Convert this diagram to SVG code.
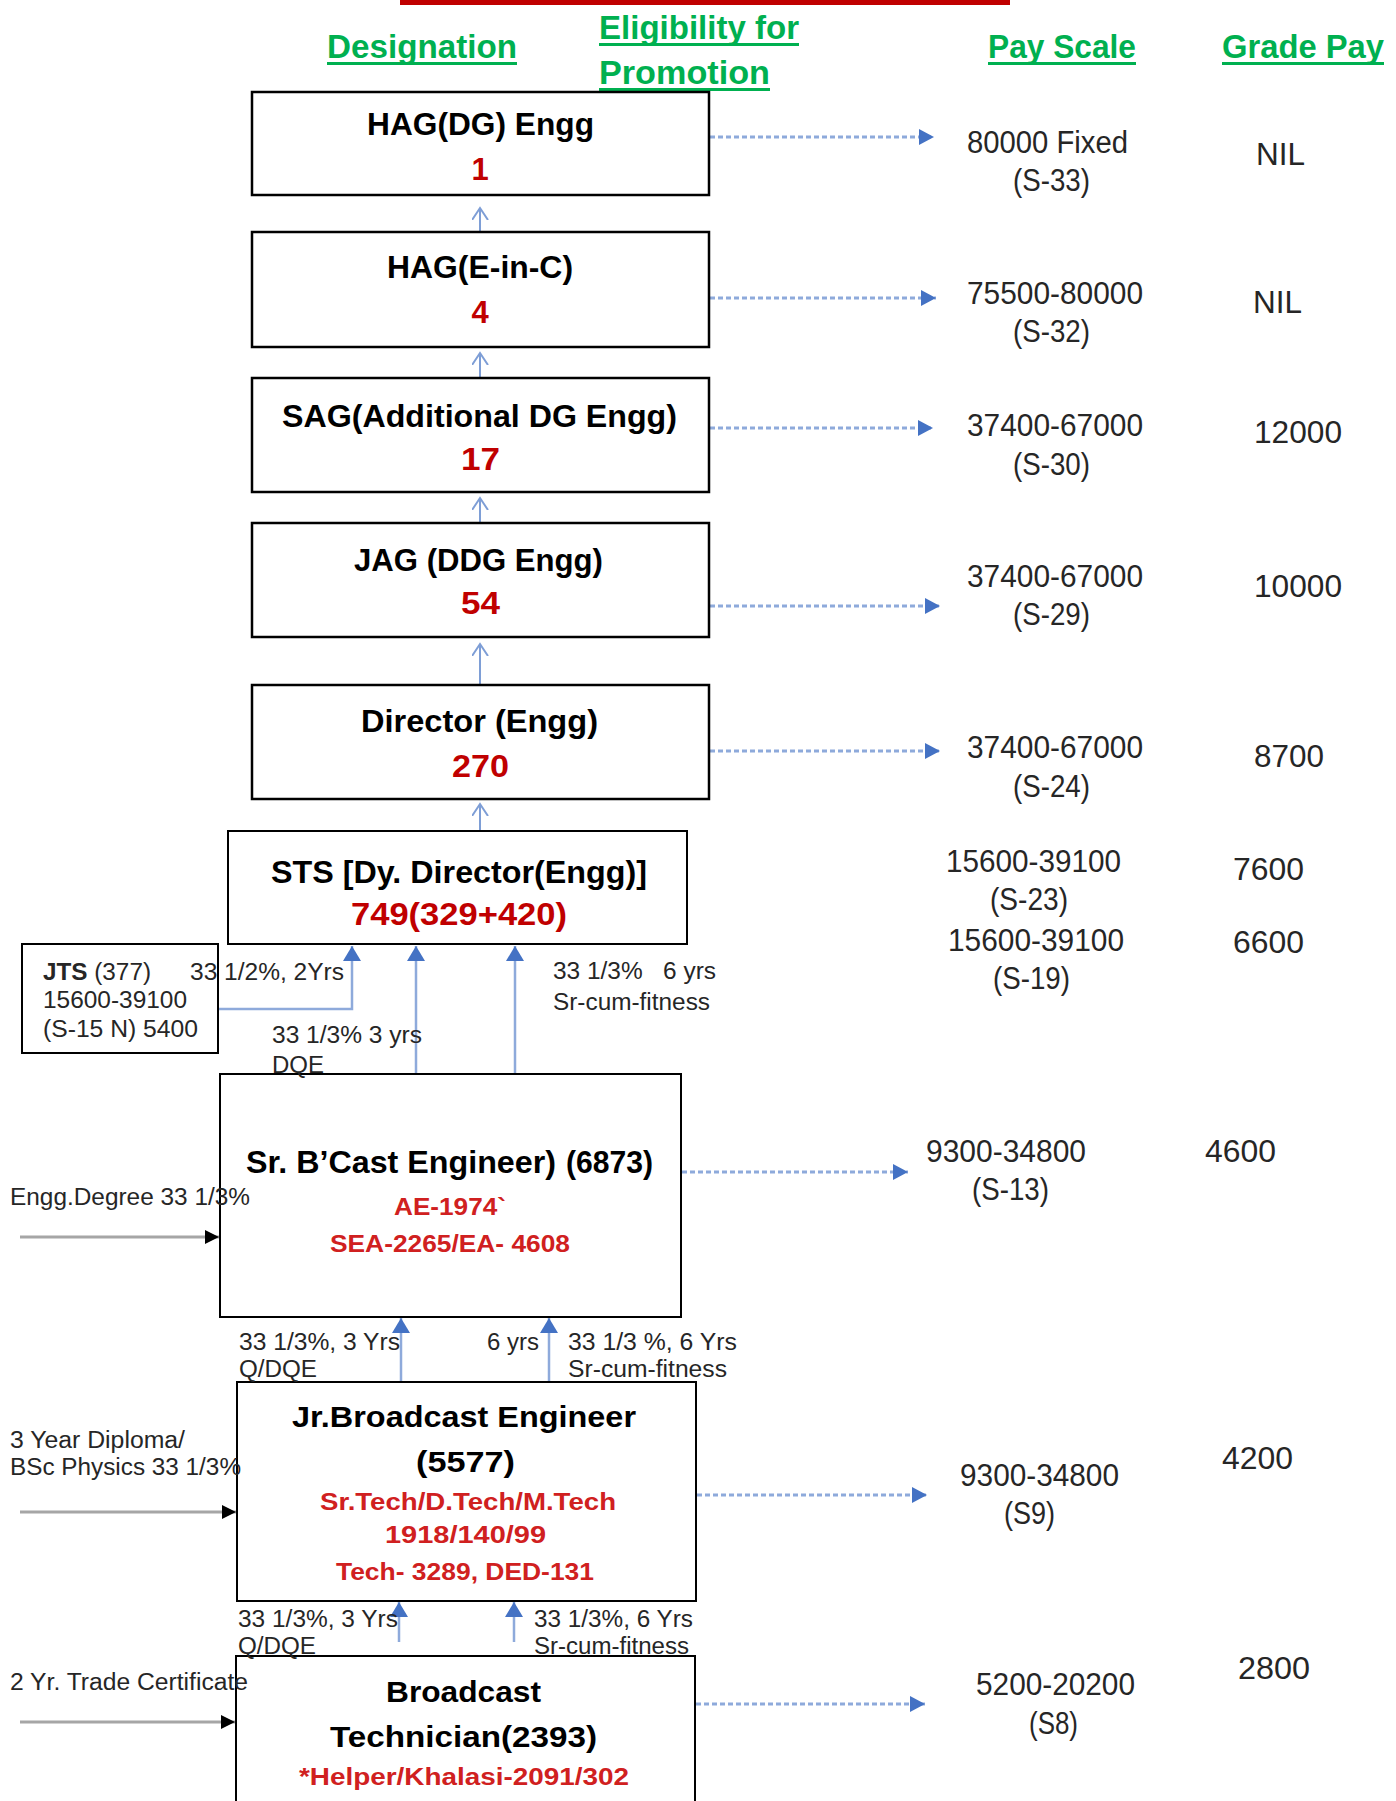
<svg xmlns="http://www.w3.org/2000/svg" width="1396" height="1801" viewBox="0 0 1396 1801">
<style>
text{font-family:"Liberation Sans",Arial,sans-serif;}
.hdr{font-size:33px;font-weight:bold;fill:#00B050;}
.ul{fill:#00B050;}
.box{fill:#fff;stroke:#000;stroke-width:2.5;}
.box2{fill:#fff;stroke:#000;stroke-width:2;}
.t{font-size:31px;font-weight:bold;fill:#000;}
.t2{font-size:30px;font-weight:bold;fill:#000;}
.n{font-size:31px;font-weight:bold;fill:#C00000;}
.r{font-size:23px;font-weight:bold;fill:#D02020;}
.lb{font-size:23px;fill:#262626;}
.pay{font-size:31px;fill:#262626;}
.up{stroke:#7E9ED6;stroke-width:2;fill:none;}
.dash{stroke:#8EAADB;stroke-width:3;stroke-dasharray:5 3;fill:none;}
.blue{stroke:#8EAADB;stroke-width:2.5;fill:none;}
.gray{stroke:#A6A6A6;stroke-width:3;fill:none;}
</style>
<defs>
<marker id="openHead" markerUnits="userSpaceOnUse" markerWidth="18" markerHeight="18" refX="12" refY="8" orient="auto">
<path d="M0,0 L12,8 L0,16" fill="none" stroke="#7E9ED6" stroke-width="2"/>
</marker>
<marker id="dashHead" markerUnits="userSpaceOnUse" markerWidth="16" markerHeight="16" refX="15" refY="8" orient="auto">
<path d="M0,0 L15,8 L0,16 z" fill="#4472C4"/>
</marker>
<marker id="blueHead" markerUnits="userSpaceOnUse" markerWidth="16" markerHeight="18" refX="15" refY="9" orient="auto">
<path d="M0,0 L15,9 L0,18 z" fill="#4472C4"/>
</marker>
<marker id="blackHead" markerUnits="userSpaceOnUse" markerWidth="14" markerHeight="14" refX="14" refY="7" orient="auto">
<path d="M0,0 L14,7 L0,14 z" fill="#000"/>
</marker>
</defs>
<rect width="1396" height="1801" fill="#fff"/>

<!-- title bar and headers -->
<g id="header">
<rect x="400" y="0" width="610" height="5" fill="#C00000"/>
<text class="hdr" x="327" y="58" textLength="190" lengthAdjust="spacingAndGlyphs">Designation</text>
<rect class="ul" x="327" y="62" width="190" height="3"/>
<text class="hdr" x="599" y="39" textLength="200" lengthAdjust="spacingAndGlyphs">Eligibility for</text>
<rect class="ul" x="599" y="43" width="200" height="3"/>
<text class="hdr" x="599" y="84" textLength="171" lengthAdjust="spacingAndGlyphs">Promotion</text>
<rect class="ul" x="599" y="88" width="171" height="3"/>
<text class="hdr" x="988" y="58" textLength="148" lengthAdjust="spacingAndGlyphs">Pay Scale</text>
<rect class="ul" x="988" y="62" width="148" height="3"/>
<text class="hdr" x="1222" y="58" textLength="162" lengthAdjust="spacingAndGlyphs">Grade Pay</text>
<rect class="ul" x="1222" y="62" width="162" height="3"/>
</g>

<!-- connectors -->
<g id="connectors">
<line class="up" x1="480" y1="232" x2="480" y2="208" marker-end="url(#openHead)"/>
<line class="up" x1="480" y1="378" x2="480" y2="353" marker-end="url(#openHead)"/>
<line class="up" x1="480" y1="523" x2="480" y2="498" marker-end="url(#openHead)"/>
<line class="up" x1="480" y1="685" x2="480" y2="644" marker-end="url(#openHead)"/>
<line class="up" x1="480" y1="831" x2="480" y2="804" marker-end="url(#openHead)"/>

<line class="dash" x1="710" y1="137" x2="934" y2="137" marker-end="url(#dashHead)"/>
<line class="dash" x1="710" y1="298" x2="936" y2="298" marker-end="url(#dashHead)"/>
<line class="dash" x1="710" y1="428" x2="933" y2="428" marker-end="url(#dashHead)"/>
<line class="dash" x1="710" y1="606" x2="940" y2="606" marker-end="url(#dashHead)"/>
<line class="dash" x1="710" y1="751" x2="940" y2="751" marker-end="url(#dashHead)"/>
<line class="dash" x1="682" y1="1172" x2="908" y2="1172" marker-end="url(#dashHead)"/>
<line class="dash" x1="697" y1="1495" x2="927" y2="1495" marker-end="url(#dashHead)"/>
<line class="dash" x1="696" y1="1704" x2="925" y2="1704" marker-end="url(#dashHead)"/>

<polyline class="blue" points="204,1009 352,1009 352,946" marker-end="url(#blueHead)"/>
<line class="blue" x1="416" y1="1074" x2="416" y2="946" marker-end="url(#blueHead)"/>
<line class="blue" x1="515" y1="1074" x2="515" y2="946" marker-end="url(#blueHead)"/>
<line class="blue" x1="401" y1="1382" x2="401" y2="1318" marker-end="url(#blueHead)"/>
<line class="blue" x1="549" y1="1382" x2="549" y2="1318" marker-end="url(#blueHead)"/>
<line class="blue" x1="399" y1="1642" x2="399" y2="1602" marker-end="url(#blueHead)"/>
<line class="blue" x1="514" y1="1642" x2="514" y2="1602" marker-end="url(#blueHead)"/>

<line class="gray" x1="20" y1="1237" x2="219" y2="1237" marker-end="url(#blackHead)"/>
<line class="gray" x1="20" y1="1512" x2="236" y2="1512" marker-end="url(#blackHead)"/>
<line class="gray" x1="20" y1="1722" x2="235" y2="1722" marker-end="url(#blackHead)"/>
</g>

<!-- nodes -->
<g id="node-hag-dg">
<rect class="box" x="252" y="92" width="457" height="103"/>
<text class="t" x="367" y="135" textLength="227" lengthAdjust="spacingAndGlyphs">HAG(DG) Engg</text>
<text class="n" x="480" y="180" text-anchor="middle">1</text>
</g>
<g id="node-hag-einc">
<rect class="box" x="252" y="232" width="457" height="115"/>
<text class="t" x="387" y="278" textLength="186" lengthAdjust="spacingAndGlyphs">HAG(E-in-C)</text>
<text class="n" x="480" y="323" text-anchor="middle">4</text>
</g>
<g id="node-sag">
<rect class="box" x="252" y="378" width="457" height="114"/>
<text class="t" x="282" y="427" textLength="395" lengthAdjust="spacingAndGlyphs">SAG(Additional DG Engg)</text>
<text class="n" x="461" y="470" textLength="39" lengthAdjust="spacingAndGlyphs">17</text>
</g>
<g id="node-jag">
<rect class="box" x="252" y="523" width="457" height="114"/>
<text class="t" x="354" y="571" textLength="249" lengthAdjust="spacingAndGlyphs">JAG (DDG Engg)</text>
<text class="n" x="461" y="614" textLength="39" lengthAdjust="spacingAndGlyphs">54</text>
</g>
<g id="node-director">
<rect class="box" x="252" y="685" width="457" height="114"/>
<text class="t" x="361" y="732" textLength="237" lengthAdjust="spacingAndGlyphs">Director (Engg)</text>
<text class="n" x="452" y="777" textLength="57" lengthAdjust="spacingAndGlyphs">270</text>
</g>
<g id="node-sts">
<rect class="box2" x="228" y="831" width="459" height="113"/>
<text class="t" x="271" y="883" textLength="376" lengthAdjust="spacingAndGlyphs">STS [Dy. Director(Engg)]</text>
<text class="n" x="351" y="925" textLength="216" lengthAdjust="spacingAndGlyphs">749(329+420)</text>
</g>
<g id="node-jts">
<rect class="box2" x="22" y="944" width="196" height="109"/>
<text class="lb" x="43" y="980" textLength="108" lengthAdjust="spacingAndGlyphs"><tspan font-weight="bold">JTS</tspan> (377)</text>
<text class="lb" x="43" y="1008" textLength="144" lengthAdjust="spacingAndGlyphs">15600-39100</text>
<text class="lb" x="43" y="1037" textLength="155" lengthAdjust="spacingAndGlyphs">(S-15 N) 5400</text>
</g>
<g id="node-sr-bcast">
<rect class="box2" x="220" y="1074" width="461" height="243"/>
<text class="t" x="246" y="1173" font-size="28" textLength="310" lengthAdjust="spacingAndGlyphs">Sr. B’Cast Engineer)</text>
<text class="t" x="566" y="1173" font-size="24" textLength="87" lengthAdjust="spacingAndGlyphs">(6873)</text>
<text class="r" x="394" y="1215" textLength="112" lengthAdjust="spacingAndGlyphs">AE-1974`</text>
<text class="r" x="330" y="1252" textLength="240" lengthAdjust="spacingAndGlyphs">SEA-2265/EA- 4608</text>
</g>
<g id="node-jr-bcast">
<rect class="box2" x="237" y="1382" width="459" height="219"/>
<text class="t2" x="292" y="1427" textLength="344" lengthAdjust="spacingAndGlyphs">Jr.Broadcast Engineer</text>
<text class="t2" x="416" y="1472" textLength="99" lengthAdjust="spacingAndGlyphs">(5577)</text>
<text class="r" x="320" y="1510" textLength="296" lengthAdjust="spacingAndGlyphs">Sr.Tech/D.Tech/M.Tech</text>
<text class="r" x="385" y="1543" textLength="161" lengthAdjust="spacingAndGlyphs">1918/140/99</text>
<text class="r" x="336" y="1580" textLength="258" lengthAdjust="spacingAndGlyphs">Tech- 3289, DED-131</text>
</g>
<g id="node-bcast-tech">
<rect class="box2" x="236" y="1656" width="459" height="170"/>
<text class="t2" x="386" y="1702" textLength="155" lengthAdjust="spacingAndGlyphs">Broadcast</text>
<text class="t2" x="330" y="1747" textLength="267" lengthAdjust="spacingAndGlyphs">Technician(2393)</text>
<text class="r" x="299" y="1785" textLength="330" lengthAdjust="spacingAndGlyphs">*Helper/Khalasi-2091/302</text>
</g>

<!-- promotion labels -->
<g id="labels">
<text class="lb" x="190" y="980" textLength="154" lengthAdjust="spacingAndGlyphs">33 1/2%, 2Yrs</text>
<text class="lb" x="553" y="979" textLength="163" lengthAdjust="spacingAndGlyphs" xml:space="preserve">33 1/3%   6 yrs</text>
<text class="lb" x="553" y="1010" textLength="157" lengthAdjust="spacingAndGlyphs">Sr-cum-fitness</text>
<text class="lb" x="272" y="1043" textLength="150" lengthAdjust="spacingAndGlyphs">33 1/3% 3 yrs</text>
<text class="lb" x="272" y="1073" textLength="52" lengthAdjust="spacingAndGlyphs">DQE</text>
<text class="lb" x="10" y="1205" textLength="240" lengthAdjust="spacingAndGlyphs">Engg.Degree 33 1/3%</text>
<text class="lb" x="239" y="1350" textLength="161" lengthAdjust="spacingAndGlyphs">33 1/3%, 3 Yrs</text>
<text class="lb" x="239" y="1377" textLength="78" lengthAdjust="spacingAndGlyphs">Q/DQE</text>
<text class="lb" x="487" y="1350" textLength="52" lengthAdjust="spacingAndGlyphs">6 yrs</text>
<text class="lb" x="568" y="1350" textLength="169" lengthAdjust="spacingAndGlyphs">33 1/3 %, 6 Yrs</text>
<text class="lb" x="568" y="1377" textLength="159" lengthAdjust="spacingAndGlyphs">Sr-cum-fitness</text>
<text class="lb" x="10" y="1448" textLength="175" lengthAdjust="spacingAndGlyphs">3 Year Diploma/</text>
<text class="lb" x="10" y="1475" textLength="231" lengthAdjust="spacingAndGlyphs">BSc Physics 33 1/3%</text>
<text class="lb" x="238" y="1627" textLength="160" lengthAdjust="spacingAndGlyphs">33 1/3%, 3 Yrs</text>
<text class="lb" x="238" y="1654" textLength="78" lengthAdjust="spacingAndGlyphs">Q/DQE</text>
<text class="lb" x="534" y="1627" textLength="159" lengthAdjust="spacingAndGlyphs">33 1/3%, 6 Yrs</text>
<text class="lb" x="534" y="1654" textLength="155" lengthAdjust="spacingAndGlyphs">Sr-cum-fitness</text>
<text class="lb" x="10" y="1690" textLength="238" lengthAdjust="spacingAndGlyphs">2 Yr. Trade Certificate</text>
</g>

<!-- pay scale and grade pay -->
<g id="pay">
<text class="pay" x="967" y="153" textLength="161" lengthAdjust="spacingAndGlyphs">80000 Fixed</text>
<text class="pay" x="1013" y="191" textLength="77" lengthAdjust="spacingAndGlyphs">(S-33)</text>
<text class="pay" x="1256" y="165" textLength="49" lengthAdjust="spacingAndGlyphs">NIL</text>
<text class="pay" x="967" y="304" textLength="176" lengthAdjust="spacingAndGlyphs">75500-80000</text>
<text class="pay" x="1013" y="342" textLength="77" lengthAdjust="spacingAndGlyphs">(S-32)</text>
<text class="pay" x="1253" y="313" textLength="49" lengthAdjust="spacingAndGlyphs">NIL</text>
<text class="pay" x="967" y="436" textLength="176" lengthAdjust="spacingAndGlyphs">37400-67000</text>
<text class="pay" x="1013" y="475" textLength="77" lengthAdjust="spacingAndGlyphs">(S-30)</text>
<text class="pay" x="1254" y="443" textLength="88" lengthAdjust="spacingAndGlyphs">12000</text>
<text class="pay" x="967" y="587" textLength="176" lengthAdjust="spacingAndGlyphs">37400-67000</text>
<text class="pay" x="1013" y="625" textLength="77" lengthAdjust="spacingAndGlyphs">(S-29)</text>
<text class="pay" x="1254" y="597" textLength="88" lengthAdjust="spacingAndGlyphs">10000</text>
<text class="pay" x="967" y="758" textLength="176" lengthAdjust="spacingAndGlyphs">37400-67000</text>
<text class="pay" x="1013" y="797" textLength="77" lengthAdjust="spacingAndGlyphs">(S-24)</text>
<text class="pay" x="1254" y="767" textLength="70" lengthAdjust="spacingAndGlyphs">8700</text>
<text class="pay" x="946" y="872" textLength="175" lengthAdjust="spacingAndGlyphs">15600-39100</text>
<text class="pay" x="990" y="910" textLength="78" lengthAdjust="spacingAndGlyphs">(S-23)</text>
<text class="pay" x="1233" y="880" textLength="71" lengthAdjust="spacingAndGlyphs">7600</text>
<text class="pay" x="948" y="951" textLength="176" lengthAdjust="spacingAndGlyphs">15600-39100</text>
<text class="pay" x="993" y="989" textLength="77" lengthAdjust="spacingAndGlyphs">(S-19)</text>
<text class="pay" x="1233" y="953" textLength="71" lengthAdjust="spacingAndGlyphs">6600</text>
<text class="pay" x="926" y="1162" textLength="160" lengthAdjust="spacingAndGlyphs">9300-34800</text>
<text class="pay" x="972" y="1200" textLength="77" lengthAdjust="spacingAndGlyphs">(S-13)</text>
<text class="pay" x="1205" y="1162" textLength="71" lengthAdjust="spacingAndGlyphs">4600</text>
<text class="pay" x="960" y="1486" textLength="159" lengthAdjust="spacingAndGlyphs">9300-34800</text>
<text class="pay" x="1004" y="1524" textLength="51" lengthAdjust="spacingAndGlyphs">(S9)</text>
<text class="pay" x="1222" y="1469" textLength="71" lengthAdjust="spacingAndGlyphs">4200</text>
<text class="pay" x="976" y="1695" textLength="159" lengthAdjust="spacingAndGlyphs">5200-20200</text>
<text class="pay" x="1029" y="1734" textLength="49" lengthAdjust="spacingAndGlyphs">(S8)</text>
<text class="pay" x="1238" y="1679" textLength="72" lengthAdjust="spacingAndGlyphs">2800</text>
</g>
</svg>
